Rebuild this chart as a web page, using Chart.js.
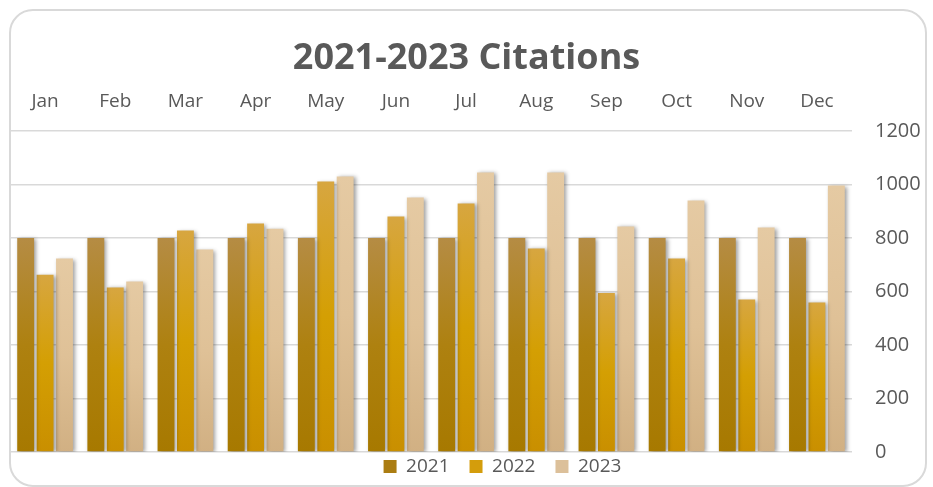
<!DOCTYPE html>
<html lang="en">
<head>
  <meta charset="UTF-8">
  <title>2021-2023 Citations</title>
  <script src="https://cdn.jsdelivr.net/npm/chart.js"></script>
  <style>
    body { margin: 0; background: #fff; }
    #wrap { position: relative; width: 933px; height: 487px; overflow: hidden; }
    #frame {
      position: absolute; left: 9px; top: 9px; width: 914px; height: 474px;
      border: 2px solid #d9d9d9; border-radius: 24px;
    }
    #chart { position: absolute; left: 0; top: 0; }
  </style>
</head>
<body>
  <div id="wrap">
    <div id="frame"></div>
    <canvas id="chart" width="933" height="487"></canvas>
  </div>

  <script>
    const months = ['Jan', 'Feb', 'Mar', 'Apr', 'May', 'Jun', 'Jul', 'Aug', 'Sep', 'Oct', 'Nov', 'Dec'];
    const years = ['2021', '2022', '2023'];
    const cites2021 = [800, 800, 800, 800, 800, 800, 800, 800, 800, 800, 800, 800];
    const cites2022 = [663, 615, 828, 854, 1011, 880, 929, 761, 594, 723, 570, 559];
    const cites2023 = [723, 637, 757, 835, 1030, 951, 1045, 1045, 843, 940, 839, 996];
    const yTicks = [0, 200, 400, 600, 800, 1000, 1200];

    const textColor = '#595959';
    const fontFamily = '"Open Sans", "Noto Sans", sans-serif';

    // top -> bottom colour stops for each year
    const fills = [
      [[0, '#b58c44'], [0.5, '#ae8110'], [1, '#a77900']],
      [[0, '#d7a640'], [0.5, '#d49f03'], [1, '#c98f00']],
      [[0, '#e5caa3'], [0.5, '#dfc197'], [1, '#d1b083']]
    ];
    const legendFills = ['#ab7d12', '#d49d0c', '#dcc09a'];

    function barFill(stops) {
      return function (ctx) {
        const chart = ctx.chart;
        const y = chart.scales.y;
        if (!chart.chartArea || !y || ctx.raw == null) return stops[1][1];
        const top = y.getPixelForValue(ctx.raw);
        const bottom = y.getPixelForValue(0);
        const g = chart.ctx.createLinearGradient(0, top, 0, bottom);
        stops.forEach(s => g.addColorStop(s[0], s[1]));
        return g;
      };
    }

    const barShadow = {
      id: 'barShadow',
      beforeDatasetsDraw(chart) {
        const c = chart.ctx;
        c.save();
        c.shadowColor = 'rgba(0,0,0,0.38)';
        c.shadowBlur = 4;
        c.shadowOffsetX = 2;
        c.shadowOffsetY = 1;
      },
      afterDatasetsDraw(chart) {
        chart.ctx.restore();
      }
    };

    // Excel sits the legend right of centre and tight under the plot
    const legendShift = {
      id: 'legendShift',
      afterLayout(chart) {
        const lg = chart.legend;
        lg.left += 36;
        lg.right += 36;
        lg.top -= 15;
        lg.bottom -= 15;
      }
    };

    const seriesData = [cites2021, cites2022, cites2023];

    new Chart(document.getElementById('chart'), {
      type: 'bar',
      data: {
        labels: months,
        datasets: years.map((yr, i) => ({
          label: yr,
          data: seriesData[i],
          backgroundColor: barFill(fills[i]),
          borderWidth: 0,
          categoryPercentage: 0.83,
          barPercentage: 0.87
        }))
      },
      options: {
        responsive: false,
        animation: false,
        layout: { padding: { top: 21, left: 10, right: 10, bottom: -32 } },
        plugins: {
          title: {
            display: true,
            text: '2021-2023 Citations',
            color: textColor,
            font: { family: fontFamily, size: 36, weight: 'bold', lineHeight: 1.2 },
            padding: { top: 16, bottom: 0 }
          },
          legend: {
            position: 'bottom',
            labels: {
              color: textColor,
              font: { family: fontFamily, size: 19 },
              boxWidth: 13,
              boxHeight: 13,
              padding: 20,
              generateLabels: chart => chart.data.datasets.map((ds, i) => ({
                text: ds.label,
                fillStyle: legendFills[i],
                strokeStyle: legendFills[i],
                lineWidth: 0,
                fontColor: textColor,
                datasetIndex: i
              }))
            }
          },
          tooltip: { enabled: false }
        },
        scales: {
          x: {
            position: 'top',
            grid: { display: false },
            border: { display: false },
            ticks: {
              color: textColor,
              font: { family: fontFamily, size: 19 },
              padding: 10,
              maxRotation: 0
            }
          },
          y: {
            position: 'right',
            min: 0,
            max: 1200,
            afterBuildTicks: axis => { axis.ticks = yTicks.map(v => ({ value: v })); },
            afterFit: axis => { axis.width = 71; },
            grid: { color: '#d9d9d9', lineWidth: 1.5, drawTicks: false },
            border: { display: false },
            ticks: {
              color: textColor,
              font: { family: fontFamily, size: 20 },
              padding: 23,
              callback: v => String(v)
            }
          }
        }
      },
      plugins: [barShadow, legendShift]
    });
  </script>
</body>
</html>
